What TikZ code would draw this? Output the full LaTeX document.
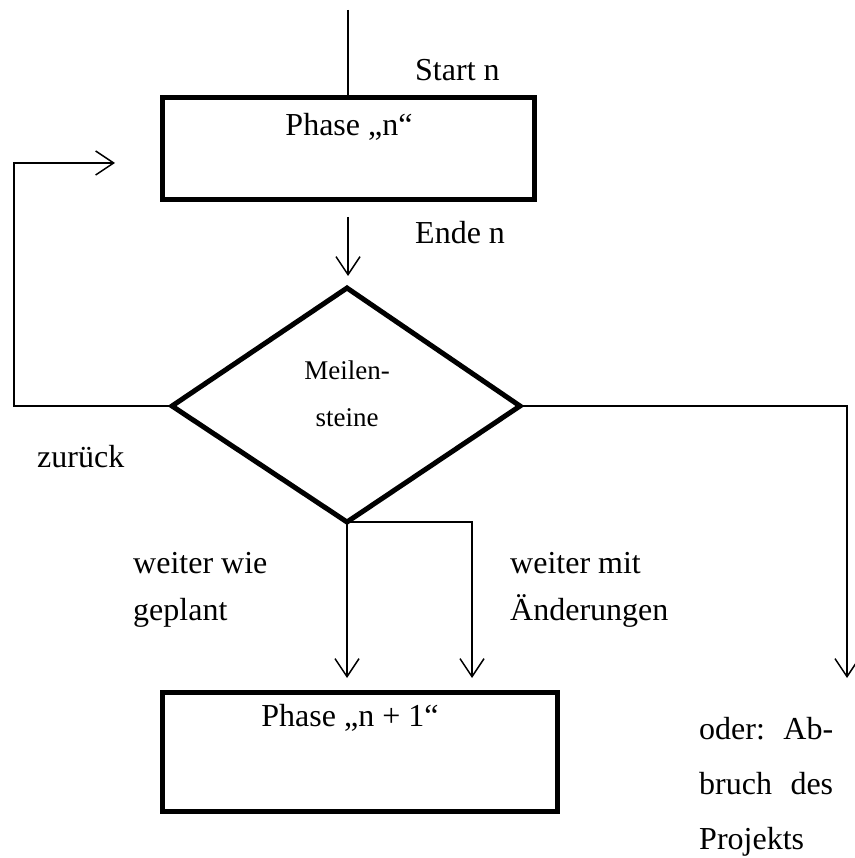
\documentclass[tikz,border=0pt]{standalone}
\usepackage{fontspec}
\setmainfont{Liberation Serif}
\usetikzlibrary{arrows.meta,shapes.geometric}
\begin{document}
\begin{tikzpicture}[x=1pt,y=-1pt,
  phasebox/.style={draw,line width=5pt,rectangle,inner sep=0pt},
  conn/.style={line width=1.5pt},
  arr/.style={conn,-{Straight Barb[length=18pt,width=24pt,line width=1.5pt]}},
  txt/.style={inner sep=0pt,font=\fontsize{32}{47}\selectfont},
  small/.style={inner sep=0pt,font=\fontsize{27}{47}\selectfont}]
\useasboundingbox (0,0) rectangle (854,858);

% phase boxes
\node[phasebox,minimum width=372pt,minimum height=102pt] (p1) at (348.5,148.5) {};
\node[phasebox,minimum width=394.5pt,minimum height=119.5pt] (p2) at (359.75,752) {};
\node[txt] (p1t) at (349,127) {Phase „n“};
\node[txt] (p2t) at (350,718) {Phase „n + 1“};

% decision diamond
\coordinate (dt) at (347,288);
\coordinate (dl) at (172,406);
\coordinate (dr) at (520,406);
\coordinate (db) at (347,522);
\draw[line width=5pt,line join=miter] (dt) -- (dr) -- (db) -- (dl) -- cycle;
\node[small,align=center] (ms) at (347,394) {Meilen-\\steine};

% incoming line and the arrow into the decision
\coordinate (top) at (348,10);
\draw[conn] (top) -- (p1.north -| top);
\coordinate (e1) at (348,217);
\coordinate (e2) at (348,276);
\draw[arr] (e1) -- (e2);
\node[txt,anchor=west] (start) at (415,70) {Start n};
\node[txt,anchor=west] (ende) at (415,233) {Ende n};

% back loop
\coordinate (lb) at (14,406);
\coordinate (lt) at (14,163);
\coordinate (la) at (115,163);
\draw[arr] (dl) -- (lb) -- (lt) -- (la);
\node[txt,anchor=west] (zur) at (37,457) {zurück};

% abort branch
\coordinate (rc) at (847,406);
\coordinate (ra) at (847,678);
\draw[arr] (dr) -- (rc) -- (ra);

% continue branches
\coordinate (a1) at (347,678);
\coordinate (bc) at (472,522);
\coordinate (a2) at (472,678);
\draw[arr] (db) -- (a1);
\draw[arr] (db) -- (bc) -- (a2);

\node[txt,anchor=west,align=left] (wwg) at (133,590) {weiter wie\\geplant};
\node[txt,anchor=west,align=left] (wma) at (510,590) {weiter mit\\Änderungen};

\node[inner sep=0pt,anchor=north west,align=left,font=\fontsize{32}{55}\selectfont] (abb) at (699,717)
  {\makebox[134pt][s]{oder: Ab-}\\\makebox[134pt][s]{bruch des}\\Projekts};
\end{tikzpicture}
\end{document}
